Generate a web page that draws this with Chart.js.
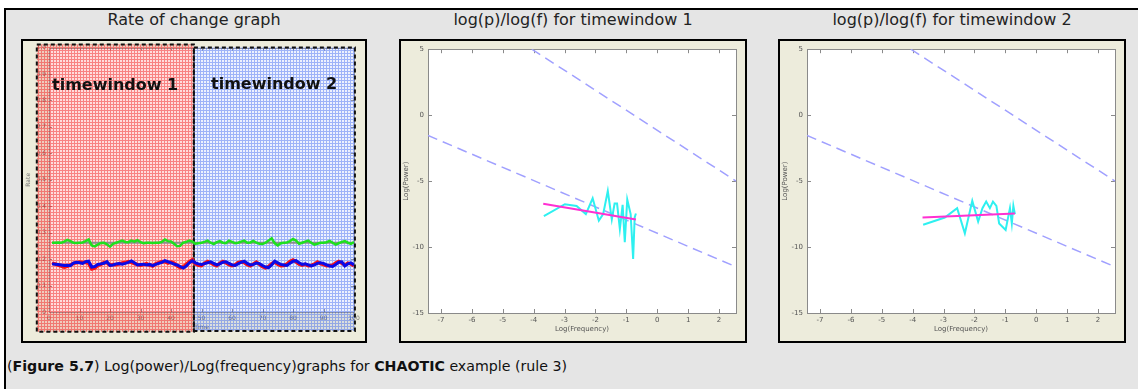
<!DOCTYPE html>
<html>
<head>
<meta charset="utf-8">
<script src="https://cdn.jsdelivr.net/npm/chart.js@4.4.1/dist/chart.umd.min.js"></script>
<style>
    body { margin: 0; width: 1138px; height: 389px; overflow: hidden; background: #fff; font-family: "DejaVu Sans", Verdana, sans-serif; }
    .frame { position: absolute; left: 4px; top: 8px; width: 1200px; height: 400px; background: #e5e5e5; border-left: 2px solid #000; border-top: 2px solid #000; }
    .title { position: absolute; top: 11px; height: 18px; line-height: 18px; font-size: 16px; color: #222; text-align: center; white-space: nowrap; }
    .box { position: absolute; top: 39px; height: 300px; border: 2px solid #000; background: #edecdc; }
    .box canvas { position: absolute; left: 0; top: 0; }
    .window-label { position: absolute; font-size: 16px; font-weight: bold; color: #111; white-space: nowrap; line-height: 18px; }
    .caption { position: absolute; left: 7px; top: 357px; font-size: 14.2px; line-height: 18px; color: #111; white-space: nowrap; }
</style>
</head>
<body>
<div class="frame"></div>

<div class="title" style="left:21px;width:346px;">Rate of change graph</div>
<div class="title" style="left:399px;width:348px;">log(p)/log(f) for timewindow 1</div>
<div class="title" style="left:778px;width:348px;">log(p)/log(f) for timewindow 2</div>

<div class="box" style="left:21px;width:342px;">
    <canvas id="rateChart" width="342" height="300"></canvas>
    <div class="window-label" style="left:29px;top:35px;">timewindow 1</div>
    <div class="window-label" style="left:188px;top:34px;">timewindow 2</div>
</div>
<div class="box" style="left:399px;width:344px;">
    <canvas id="logChart1" width="344" height="300"></canvas>
</div>
<div class="box" style="left:778px;width:344px;">
    <canvas id="logChart2" width="344" height="300"></canvas>
</div>

<div class="caption">(<b>Figure 5.7</b>) Log(power)/Log(frequency)graphs for <b>CHAOTIC</b> example (rule 3)</div>

<script>
// --- rate of change series (one value per time step) ---
const timeSteps = [
    1, 2, 3, 4, 5, 6, 7, 8, 9, 10, 11, 12, 13, 14, 15, 16, 17, 18, 19, 20,
    21, 22, 23, 24, 25, 26, 27, 28, 29, 30, 31, 32, 33, 34, 35, 36, 37, 38, 39, 40,
    41, 42, 43, 44, 45, 46, 47, 48, 49, 50, 51, 52, 53, 54, 55, 56, 57, 58, 59, 60,
    61, 62, 63, 64, 65, 66, 67, 68, 69, 70, 71, 72, 73, 74, 75, 76, 77, 78, 79, 80,
    81, 82, 83, 84, 85, 86, 87, 88, 89, 90, 91, 92, 93, 94, 95, 96, 97, 98, 99, 100
];
const greenRate = [
    0.262, 0.262, 0.263, 0.262, 0.266, 0.273, 0.268, 0.262, 0.261, 0.262,
    0.263, 0.268, 0.274, 0.252, 0.248, 0.255, 0.261, 0.262, 0.256, 0.247,
    0.258, 0.262, 0.266, 0.270, 0.265, 0.264, 0.270, 0.266, 0.272, 0.264,
    0.260, 0.262, 0.262, 0.261, 0.262, 0.262, 0.265, 0.274, 0.268, 0.267,
    0.258, 0.249, 0.250, 0.262, 0.265, 0.270, 0.266, 0.258, 0.260, 0.262,
    0.265, 0.270, 0.262, 0.257, 0.264, 0.268, 0.262, 0.260, 0.270, 0.265,
    0.260, 0.262, 0.266, 0.270, 0.262, 0.263, 0.269, 0.262, 0.258, 0.257,
    0.262, 0.270, 0.279, 0.260, 0.252, 0.260, 0.262, 0.263, 0.268, 0.276,
    0.270, 0.258, 0.262, 0.266, 0.270, 0.262, 0.255, 0.258, 0.262, 0.262,
    0.264, 0.269, 0.262, 0.255, 0.260, 0.265, 0.268, 0.262, 0.258, 0.264
];
const redRate = [
    0.184, 0.182, 0.177, 0.174, 0.170, 0.173, 0.178, 0.184, 0.186, 0.189,
    0.187, 0.188, 0.184, 0.163, 0.166, 0.176, 0.180, 0.187, 0.186, 0.177,
    0.180, 0.179, 0.182, 0.185, 0.187, 0.191, 0.188, 0.183, 0.180, 0.177,
    0.179, 0.183, 0.177, 0.174, 0.182, 0.187, 0.191, 0.190, 0.185, 0.189,
    0.185, 0.175, 0.168, 0.171, 0.180, 0.190, 0.197, 0.182, 0.177, 0.175,
    0.185, 0.191, 0.186, 0.179, 0.175, 0.185, 0.191, 0.186, 0.179, 0.175,
    0.178, 0.187, 0.190, 0.187, 0.179, 0.175, 0.182, 0.189, 0.180, 0.171,
    0.167, 0.172, 0.183, 0.189, 0.181, 0.175, 0.176, 0.181, 0.191, 0.197,
    0.190, 0.181, 0.177, 0.180, 0.175, 0.176, 0.181, 0.189, 0.183, 0.179,
    0.175, 0.176, 0.177, 0.185, 0.191, 0.185, 0.177, 0.185, 0.182, 0.175
];
const blueRate = [
    0.182, 0.181, 0.180, 0.178, 0.176, 0.177, 0.175, 0.185, 0.188, 0.186,
    0.184, 0.190, 0.192, 0.170, 0.172, 0.180, 0.182, 0.184, 0.190, 0.176,
    0.178, 0.182, 0.183, 0.181, 0.184, 0.188, 0.193, 0.186, 0.178, 0.180,
    0.181, 0.178, 0.180, 0.175, 0.180, 0.184, 0.188, 0.194, 0.190, 0.186,
    0.181, 0.178, 0.172, 0.166, 0.174, 0.186, 0.194, 0.186, 0.182, 0.180,
    0.183, 0.186, 0.190, 0.184, 0.178, 0.182, 0.188, 0.190, 0.184, 0.178,
    0.176, 0.182, 0.188, 0.192, 0.184, 0.178, 0.180, 0.185, 0.183, 0.176,
    0.170, 0.168, 0.178, 0.192, 0.186, 0.180, 0.178, 0.176, 0.184, 0.192,
    0.194, 0.186, 0.180, 0.182, 0.178, 0.174, 0.178, 0.184, 0.186, 0.184,
    0.178, 0.174, 0.172, 0.180, 0.188, 0.190, 0.174, 0.182, 0.186, 0.178
];
const meanX = [1, 100];
const meanGreen = [0.262, 0.262];

// time windows, in axis units
const windowStart = [-4, 47.5];
const windowEnd = [47.5, 100.3];
const windowTop = [1.012, 1.0];
const windowBottom = [-0.075, -0.072];

const rateTicksX = [0, 10, 20, 30, 40, 50, 60, 70, 80, 90, 100];
const rateTicksY = [0, 0.1, 0.2, 0.3, 0.4, 0.5, 0.6, 0.7, 0.8, 0.9, 1];

// --- log(power) vs log(frequency) ---
const spectrum1X = [-3.67, -2.99, -2.61, -2.31, -2.09, -1.89, -1.75, -1.60, -1.47, -1.38, -1.30, -1.21, -1.12, -1.05, -0.97, -0.86, -0.78, -0.73, -0.69];
const spectrum1Y = [-7.66, -6.75, -6.88, -7.50, -6.30, -8.00, -7.50, -5.75, -7.90, -6.70, -6.70, -8.63, -6.80, -9.64, -6.40, -7.50, -10.90, -7.76, -7.46];
const fit1X = [-3.69, -0.69];
const fit1Y = [-6.71, -7.91];

const spectrum2X = [-3.66, -2.96, -2.56, -2.31, -2.07, -1.88, -1.74, -1.62, -1.50, -1.40, -1.29, -1.20, -0.99, -0.85, -0.79, -0.74, -0.69];
const spectrum2Y = [-8.31, -7.76, -7.05, -8.96, -6.50, -8.06, -7.05, -6.55, -7.05, -6.55, -6.88, -8.21, -8.71, -7.05, -8.21, -6.88, -7.50];
const fit2X = [-3.68, -0.69];
const fit2Y = [-7.76, -7.46];

const guideUpperX = [-4.06, 2.55];
const guideUpperY = [5, -5];
const guideLowerX = [-7.42, 2.55];
const guideLowerY = [-1.54, -11.5];

const logTicksX = [-7, -6, -5, -4, -3, -2, -1, 0, 1, 2];
const logTicksY = [-15, -10, -5, 0, 5];

function pts(xs, ys) {
    return xs.map((x, i) => ({ x: x, y: ys[i] }));
}

// white plot area, grey box and inward tick marks like the old plotting tool
const plotBox = {
    id: 'plotBox',
    beforeDraw(chart) {
        const { ctx, chartArea: a } = chart;
        ctx.save();
        ctx.fillStyle = '#fff';
        ctx.fillRect(a.left, a.top, a.width, a.height);
        ctx.restore();
    },
    beforeDatasetsDraw(chart, args, opts) {
        const { ctx, chartArea: a, scales: { x, y } } = chart;
        const len = opts.tickLength || 4;
        ctx.save();
        ctx.strokeStyle = opts.color || '#888';
        ctx.lineWidth = 1;
        ctx.strokeRect(Math.round(a.left) + 0.5, Math.round(a.top) + 0.5, Math.round(a.width), Math.round(a.height));
        ctx.beginPath();
        x.ticks.forEach(t => {
            const px = Math.round(x.getPixelForValue(t.value)) + 0.5;
            ctx.moveTo(px, a.bottom); ctx.lineTo(px, a.bottom - len);
            ctx.moveTo(px, a.top); ctx.lineTo(px, a.top + len);
        });
        y.ticks.forEach(t => {
            const py = Math.round(y.getPixelForValue(t.value)) + 0.5;
            ctx.moveTo(a.left, py); ctx.lineTo(a.left + len, py);
            ctx.moveTo(a.right, py); ctx.lineTo(a.right - len, py);
        });
        ctx.stroke();
        ctx.restore();
    }
};

// hatched red / blue shading for the two time windows
const windowShade = {
    id: 'windowShade',
    beforeDatasetsDraw(chart) {
        const { ctx, scales: { x, y } } = chart;
        const colors = [
            { line: 'rgba(240,20,20,0.45)', fill: 'rgba(255,40,40,0.16)' },
            { line: 'rgba(30,80,240,0.38)', fill: 'rgba(30,80,240,0.08)' }
        ];
        ctx.save();
        windowStart.forEach((start, i) => {
            const tile = document.createElement('canvas');
            tile.width = 3; tile.height = 3;
            const g = tile.getContext('2d');
            g.fillStyle = colors[i].fill;
            g.fillRect(0, 0, 3, 3);
            g.fillStyle = colors[i].line;
            g.fillRect(0, 0, 3, 1);
            g.fillRect(0, 1, 1, 2);
            const left = x.getPixelForValue(start);
            const right = x.getPixelForValue(windowEnd[i]);
            const top = y.getPixelForValue(windowTop[i]);
            const bottom = y.getPixelForValue(windowBottom[i]);
            ctx.fillStyle = ctx.createPattern(tile, 'repeat');
            ctx.fillRect(left, top, right - left, bottom - top);
        });
        ctx.strokeStyle = '#111';
        ctx.lineWidth = 2;
        ctx.setLineDash([4, 3]);
        windowStart.forEach((start, i) => {
            const left = x.getPixelForValue(start);
            const right = x.getPixelForValue(windowEnd[i]);
            const top = y.getPixelForValue(windowTop[i]);
            const bottom = y.getPixelForValue(windowBottom[i]);
            ctx.strokeRect(left, top, right - left, bottom - top);
        });
        ctx.restore();
    }
};

const tickFont = { family: 'DejaVu Sans', size: 7 };
const smallFont = { family: 'DejaVu Sans', size: 6 };

// datasets listed top-most first (Chart.js paints the first one last)
new Chart(document.getElementById('rateChart'), {
    type: 'line',
    data: {
        datasets: [
            { data: pts(timeSteps, blueRate), borderColor: '#0a0ae8', borderWidth: 3 },
            { data: pts(timeSteps, redRate), borderColor: '#ff1010', borderWidth: 3.5 },
            { data: pts(timeSteps, greenRate), borderColor: '#1ee01e', borderWidth: 2.5 },
            { data: pts(meanX, meanGreen), borderColor: '#8c8c8c', borderWidth: 2 }
        ]
    },
    options: {
        responsive: false,
        animation: false,
        layout: { padding: { top: 6, right: 11, left: 0, bottom: 0 } },
        elements: { point: { radius: 0 }, line: { tension: 0 } },
        plugins: {
            legend: { display: false },
            tooltip: { enabled: false },
            plotBox: { color: '#999', tickLength: 3 }
        },
        scales: {
            x: {
                type: 'linear', min: 0, max: 100,
                afterBuildTicks: s => { s.ticks = rateTicksX.map(v => ({ value: v })); },
                afterFit: s => { s.height = 29; },
                grid: { display: false, drawTicks: false },
                border: { display: false },
                ticks: { font: smallFont, color: '#777', padding: 3, maxRotation: 0, autoSkip: false },
                title: { display: true, text: 'Time', font: smallFont, color: '#777', padding: { top: 0, bottom: 10 } }
            },
            y: {
                min: 0, max: 1,
                afterBuildTicks: s => { s.ticks = rateTicksY.map(v => ({ value: v })); },
                afterFit: s => { s.width = 26; },
                grid: { display: false, drawTicks: false },
                border: { display: false },
                ticks: { font: smallFont, color: '#777', padding: 3, autoSkip: false },
                title: { display: true, text: 'Rate', font: smallFont, color: '#777', padding: { top: 2, bottom: 0 } }
            }
        }
    },
    plugins: [plotBox, windowShade]
});

function logChart(id, specX, specY, fitX, fitY) {
    return new Chart(document.getElementById(id), {
        type: 'line',
        data: {
            datasets: [
                { data: pts(fitX, fitY), borderColor: '#ff30d2', borderWidth: 2 },
                { data: pts(specX, specY), borderColor: '#2ef0f0', borderWidth: 2 },
                { data: pts(guideUpperX, guideUpperY), borderColor: '#a0a0ff', borderWidth: 1.5, borderDash: [10, 6] },
                { data: pts(guideLowerX, guideLowerY), borderColor: '#a0a0ff', borderWidth: 1.5, borderDash: [10, 6] }
            ]
        },
        options: {
            responsive: false,
            animation: false,
            layout: { padding: { top: 6, right: 9, left: 0, bottom: 0 } },
            elements: { point: { radius: 0 }, line: { tension: 0 } },
            plugins: {
                legend: { display: false },
                tooltip: { enabled: false },
                plotBox: { color: '#8a8a8a', tickLength: 4 }
            },
            scales: {
                x: {
                    type: 'linear', min: -7.42, max: 2.55,
                    afterBuildTicks: s => { s.ticks = logTicksX.map(v => ({ value: v })); },
                    afterFit: s => { s.height = 28; },
                    grid: { display: false, drawTicks: false },
                    border: { display: false },
                    ticks: { font: tickFont, color: '#555', padding: 3, maxRotation: 0, autoSkip: false },
                    title: { display: true, text: 'Log(Frequency)', font: tickFont, color: '#555', padding: { top: 0, bottom: 8 } }
                },
                y: {
                    min: -15, max: 5,
                    afterBuildTicks: s => { s.ticks = logTicksY.map(v => ({ value: v })); },
                    afterFit: s => { s.width = 27; },
                    grid: { display: false, drawTicks: false },
                    border: { display: false },
                    ticks: { font: tickFont, color: '#555', padding: 4, autoSkip: false },
                    title: { display: true, text: 'Log(Power)', font: tickFont, color: '#555', padding: { top: 1, bottom: 0 } }
                }
            }
        },
        plugins: [plotBox]
    });
}

logChart('logChart1', spectrum1X, spectrum1Y, fit1X, fit1Y);
logChart('logChart2', spectrum2X, spectrum2Y, fit2X, fit2Y);
</script>
</body>
</html>
